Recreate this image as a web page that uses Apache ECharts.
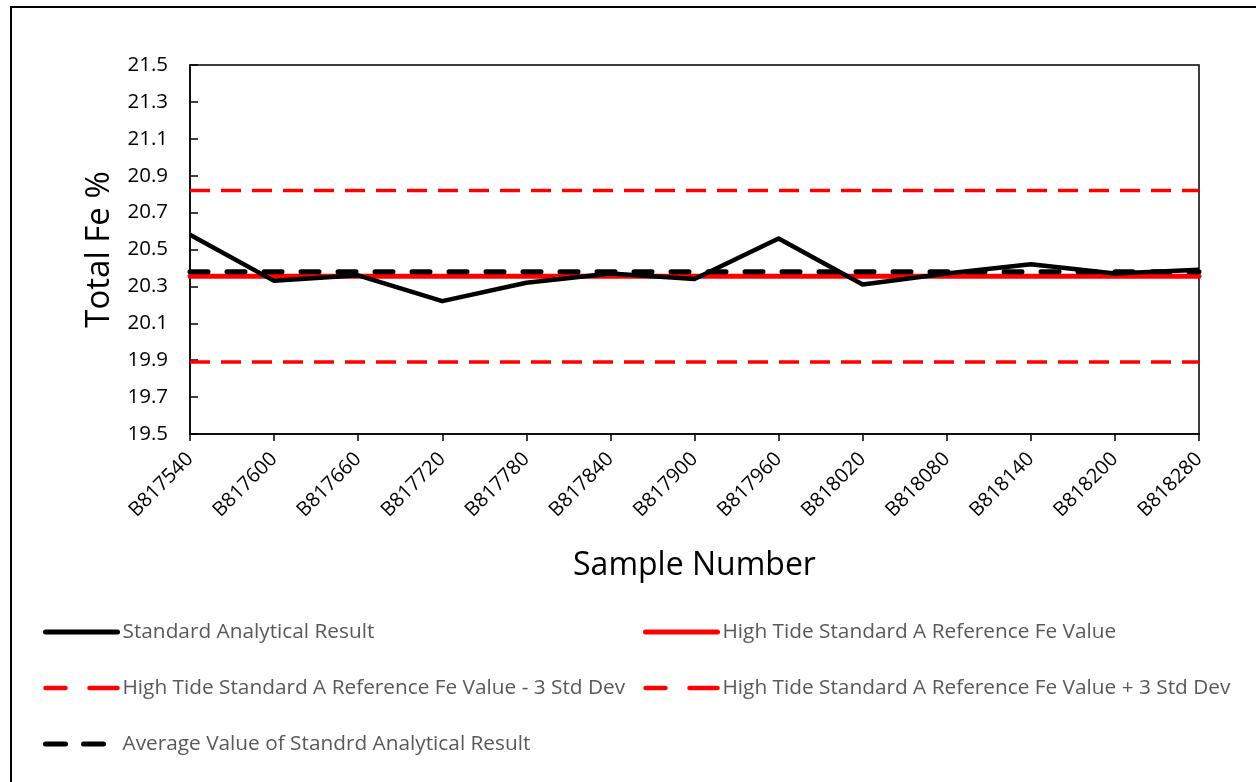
<!DOCTYPE html>
<html>

<head>
    <meta charset="utf-8">
    <title>Total Fe % - Standard A</title>
    <script src="https://cdn.jsdelivr.net/npm/echarts@6.0.0/dist/echarts.min.js"></script>
    <style>
        html, body {
            margin: 0;
            padding: 0;
            background: #fff;
        }
        #main {
            width: 1256px;
            height: 782px;
        }
    </style>
</head>

<body>
    <div id="main"></div>
    <script type="text/javascript">
        // sample numbers on the x axis
        var samples = ['B817540', 'B817600', 'B817660', 'B817720', 'B817780', 'B817840', 'B817900',
            'B817960', 'B818020', 'B818080', 'B818140', 'B818200', 'B818280'];
        // measured Fe % of the standard
        var analytical = [20.58, 20.33, 20.36, 20.22, 20.32, 20.37, 20.34, 20.56, 20.31, 20.37, 20.42, 20.37, 20.39];
        // reference lines
        var refValue = [20.355, 20.355, 20.355, 20.355, 20.355, 20.355, 20.355, 20.355, 20.355, 20.355, 20.355, 20.355, 20.355];
        var refMinus3 = [19.89, 19.89, 19.89, 19.89, 19.89, 19.89, 19.89, 19.89, 19.89, 19.89, 19.89, 19.89, 19.89];
        var refPlus3 = [20.82, 20.82, 20.82, 20.82, 20.82, 20.82, 20.82, 20.82, 20.82, 20.82, 20.82, 20.82, 20.82];
        var averageValue = [20.38, 20.38, 20.38, 20.38, 20.38, 20.38, 20.38, 20.38, 20.38, 20.38, 20.38, 20.38, 20.38];

        var names = {
            std: 'Standard Analytical Result',
            ref: 'High Tide Standard A Reference Fe Value',
            minus: 'High Tide Standard A Reference Fe Value - 3 Std Dev',
            plus: 'High Tide Standard A Reference Fe Value + 3 Std Dev',
            avg: 'Average Value of Standrd Analytical Result'
        };

        var font = 'Open Sans';
        var chart = echarts.init(document.getElementById('main'));

        var legendText = { color: '#595959', fontSize: 20.8, fontFamily: font, lineHeight: 22 };
        // legend icons: line only, no marker
        var legendBase = {
            orient: 'vertical',
            top: 616,
            itemWidth: 72,
            itemHeight: 22,
            itemGap: 34,
            padding: 5,
            itemStyle: { opacity: 0 },
            lineStyle: { width: 5, cap: 'round' },
            textStyle: legendText
        };
        var redDashIcon = { width: 4.5, type: [20, 24, 30], cap: 'round' };
        var blackDashIcon = { width: 5, type: [20, 18], cap: 'round' };

        var option = {
            animation: false,
            textStyle: { fontFamily: font },
            graphic: [{
                type: 'rect',
                shape: { x: 11, y: 7, width: 1300, height: 800 },
                style: { fill: 'none', stroke: '#000', lineWidth: 2 },
                silent: true
            }],
            legend: [
                Object.assign({}, legendBase, {
                    left: 38,
                    data: [
                        { name: names.std },
                        { name: names.minus, lineStyle: redDashIcon },
                        { name: names.avg, lineStyle: blackDashIcon }
                    ]
                }),
                Object.assign({}, legendBase, {
                    left: 638,
                    data: [
                        { name: names.ref },
                        { name: names.plus, lineStyle: redDashIcon }
                    ]
                })
            ],
            grid: {
                left: 190,
                right: 57,
                top: 65,
                bottom: 348,
                show: true,
                borderColor: '#000',
                borderWidth: 1.5
            },
            xAxis: {
                type: 'category',
                data: samples,
                boundaryGap: false,
                name: 'Sample Number',
                nameLocation: 'middle',
                nameGap: 116,
                nameTextStyle: { fontSize: 32, color: '#000', fontFamily: font },
                axisLine: { lineStyle: { color: '#000', width: 1.5 } },
                axisTick: { show: true, length: 7, alignWithLabel: true, lineStyle: { color: '#000', width: 1.5 } },
                axisLabel: {
                    interval: 0,
                    rotate: 45,
                    margin: 22,
                    fontSize: 20,
                    color: '#000',
                    fontFamily: font
                },
                splitLine: { show: false }
            },
            yAxis: {
                type: 'value',
                min: 19.5,
                max: 21.5,
                interval: 0.2,
                name: 'Total Fe %',
                nameLocation: 'middle',
                nameGap: 74,
                nameTextStyle: { fontSize: 33, color: '#000', fontFamily: font },
                axisLine: { show: true, lineStyle: { color: '#000', width: 1.5 } },
                axisTick: { show: true, inside: true, length: 8, lineStyle: { color: '#000', width: 1.5 } },
                axisLabel: {
                    margin: 22,
                    fontSize: 20.5,
                    color: '#000',
                    fontFamily: font,
                    formatter: function (v) { return v.toFixed(1); }
                },
                splitLine: { show: false }
            },
            series: [
                {
                    name: names.ref,
                    type: 'line',
                    data: refValue,
                    symbol: 'none',
                    z: 2,
                    itemStyle: { color: '#ff0000' },
                    lineStyle: { color: '#ff0000', width: 5, cap: 'round' }
                },
                {
                    name: names.minus,
                    type: 'line',
                    data: refMinus3,
                    symbol: 'none',
                    z: 2,
                    itemStyle: { color: '#ff0000' },
                    lineStyle: { color: '#ff0000', width: 3.5, type: [20, 11] }
                },
                {
                    name: names.plus,
                    type: 'line',
                    data: refPlus3,
                    symbol: 'none',
                    z: 2,
                    itemStyle: { color: '#ff0000' },
                    lineStyle: { color: '#ff0000', width: 3.5, type: [20, 11] }
                },
                {
                    name: names.std,
                    type: 'line',
                    data: analytical,
                    symbol: 'none',
                    z: 3,
                    itemStyle: { color: '#000' },
                    lineStyle: { color: '#000', width: 4.5, join: 'round' }
                },
                {
                    name: names.avg,
                    type: 'line',
                    data: averageValue,
                    symbol: 'none',
                    z: 4,
                    itemStyle: { color: '#000' },
                    lineStyle: { color: '#000', width: 5, type: [18, 19], cap: 'round' }
                }
            ]
        };

        chart.setOption(option);

        window.addEventListener('resize', function () {
            chart.resize();
        });
    </script>
</body>

</html>
